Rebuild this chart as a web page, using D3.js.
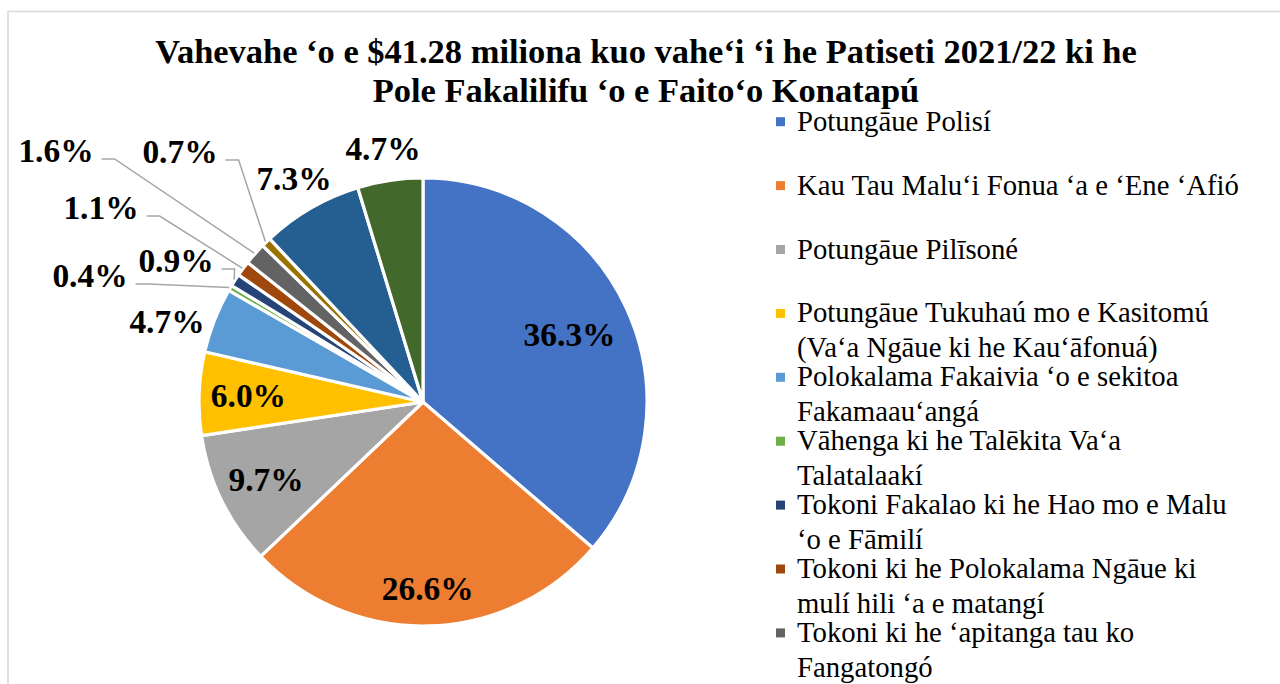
<!DOCTYPE html>
<html><head><meta charset="utf-8">
<script src="https://cdn.jsdelivr.net/npm/d3@7"></script>
<style>html,body{margin:0;padding:0;background:#fff;overflow:hidden}</style>
</head><body>
<svg id="chart" width="1280" height="684"></svg>
<script>
// ---- data ----
const titleLines = [
  "Vahevahe ‘o e $41.28 miliona kuo vahe‘i ‘i he Patiseti 2021/22 ki he",
  "Pole Fakalilifu ‘o e Faito‘o Konatapú"
];
const categories = [
  "Potungāue Polisí",
  "Kau Tau Malu‘i Fonua ‘a e ‘Ene ‘Afió",
  "Potungāue Pilīsoné",
  "Potungāue Tukuhaú mo e Kasitomú\n(Va‘a Ngāue ki he Kau‘āfonuá)",
  "Polokalama Fakaivia ‘o e sekitoa\nFakamaau‘angá",
  "Vāhenga ki he Talēkita Va‘a\nTalatalaakí",
  "Tokoni Fakalao ki he Hao mo e Malu\n‘o e Fāmilí",
  "Tokoni ki he Polokalama Ngāue ki\nmulí hili ‘a e matangí",
  "Tokoni ki he ‘apitanga tau ko\nFangatongó"
];
const values = [36.3, 26.6, 9.7, 6.0, 4.7, 0.4, 0.9, 1.1, 1.6, 0.7, 7.3, 4.7];
const colors = ["#4472C4","#ED7D31","#A5A5A5","#FFC000","#5B9BD5","#70AD47",
                "#264478","#9E480E","#636363","#997300","#255E91","#43682B"];

// ---- layout (label placement, not data) ----
const labelLayout = [
  {type:"in", rf:0.72},
  {type:"in", rf:0.83},
  {type:"in", rf:0.78},
  {type:"in", rf:0.78},
  {type:"out", dx:-256, dy:-69, leader:false},
  {type:"out", dx:-333, dy:-115, leader:true},
  {type:"out", dx:-247, dy:-130, leader:true},
  {type:"out", dx:-322, dy:-183, leader:true},
  {type:"out", dx:-367, dy:-240, leader:true},
  {type:"out", dx:-243, dy:-239, leader:true},
  {type:"out", dx:-129, dy:-212, leader:false},
  {type:"out", dx:-40, dy:-242, leader:false}
];

const svg = d3.select("#chart");
const serif = "'Liberation Serif', 'Times New Roman', serif";
const cx = 423, cy = 402, R = 224;

// frame
svg.append("path").attr("d", "M8,684V11.5H1280")
  .attr("fill","none").attr("stroke","#d9d9d9").attr("stroke-width",1.6);

// helper to fit font size to target width
function fitSize(text, weight, base, target) {
  const t = svg.append("text").attr("font-family", serif).attr("font-weight", weight)
    .attr("font-size", base).text(text);
  const w = t.node().getComputedTextLength();
  t.remove();
  return base * target / w;
}

// title
const titleSize = fitSize(titleLines[0], "bold", 30, 982);
svg.append("g").selectAll("text").data(titleLines).join("text")
  .attr("x", 646).attr("y", (d,i) => i === 0 ? 63 : 102)
  .attr("text-anchor","middle").attr("font-family", serif).attr("font-weight","bold")
  .attr("font-size", titleSize).attr("fill","#000").text(d => d);

// pie
const pie = d3.pie().sort(null).value(d => d);
const arcs = pie(values);
const arc = d3.arc().innerRadius(0).outerRadius(R);
const g = svg.append("g").attr("transform", `translate(${cx},${cy})`);
g.selectAll("path.slice").data(arcs).join("path").attr("class","slice")
  .attr("d", arc).attr("fill", (d,i) => colors[i])
  .attr("stroke","#fff").attr("stroke-width",3.2).attr("stroke-linejoin","round");

// data labels
const labelSize = fitSize("36.3%", "bold", 32, 92);
const fmt = v => v.toFixed(1) + "%";
arcs.forEach((d, i) => {
  const L = labelLayout[i];
  if (L.type === "in") {
    const c = d3.arc().innerRadius(R * L.rf).outerRadius(R * L.rf).centroid(d);
    g.append("text").attr("x", c[0]).attr("y", c[1]).attr("dy","0.35em")
      .attr("text-anchor","middle").attr("font-family", serif).attr("font-weight","bold")
      .attr("font-size", labelSize).attr("fill","#000").text(fmt(values[i]));
  } else {
    const t = g.append("text").attr("x", L.dx).attr("y", L.dy)
      .attr("text-anchor","middle").attr("font-family", serif).attr("font-weight","bold")
      .attr("font-size", labelSize).attr("fill","#000").text(fmt(values[i]));
    if (L.leader) {
      const w = t.node().getComputedTextLength();
      const x0 = L.dx + w / 2 + 8, y0 = L.dy - 3;
      const mid = (d.startAngle + d.endAngle) / 2;
      const p = [Math.sin(mid) * (R + 1), -Math.cos(mid) * (R + 1)];
      const pts = [[x0, y0], [x0 + 13, y0], p];
      g.insert("path", "text").attr("d", d3.line()(pts))
        .attr("fill","none").attr("stroke","#a6a6a6").attr("stroke-width",1.5);
    }
  }
});

// legend
const legSize = fitSize(categories[1], "normal", 26, 442);
const leg = svg.append("g");
categories.forEach((name, i) => {
  const y0 = 130.7 + i * 63.9;
  leg.append("rect").attr("x", 776).attr("y", y0 - 13.5).attr("width", 9).attr("height", 9)
    .attr("fill", colors[i]);
  name.split("\n").forEach((line, j) => {
    leg.append("text").attr("x", 797).attr("y", y0 + j * 35)
      .attr("font-family", serif).attr("font-size", legSize).attr("fill","#000").text(line);
  });
});
</script>
</body></html>
